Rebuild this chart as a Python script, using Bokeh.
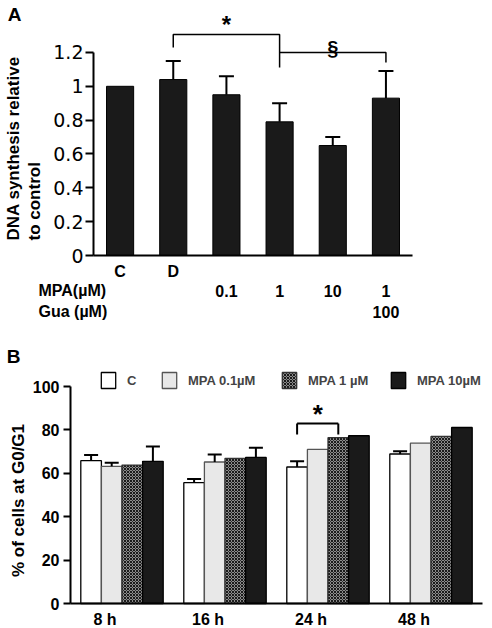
from bokeh.plotting import figure
from bokeh.models import (ColumnDataSource, Range1d, FixedTicker,
                          PrintfTickFormatter, Legend, LegendItem)
from bokeh.transform import dodge
from bokeh.core.properties import value
from bokeh.embed import file_html
from bokeh.resources import INLINE

# ---------------- Panel A data ----------------
a_cats = ["C", "D", "MPA 0.1", "MPA 1", "MPA 10", "MPA 1 + Gua 100"]
a_mean = [1.00, 1.04, 0.95, 0.79, 0.65, 0.93]
a_upper = [1.00, 1.15, 1.06, 0.90, 0.70, 1.09]
a_row1 = ["C", "D", "", "", "", ""]
a_mpa = ["", "", "0.1", "1", "10", "1"]
a_gua = ["", "", "", "", "", "100"]
a_yticks = [0, 0.2, 0.4, 0.6, 0.8, 1.0, 1.2]

# ---------------- Panel B data ----------------
b_times = ["8 h", "16 h", "24 h", "48 h"]
b_series = ["C", "MPA 0.1\u00b5M", "MPA 1 \u00b5M", "MPA 10\u00b5M"]
b_C = [65.8, 55.7, 62.9, 68.9]
b_C_up = [68.4, 57.4, 65.5, 70.2]
b_m01 = [63.2, 65.2, 71.0, 73.9]
b_m01_up = [64.9, 68.7, 71.0, 73.9]
b_m1 = [63.8, 66.9, 76.4, 77.0]
b_m1_up = [63.8, 66.9, 76.4, 77.0]
b_m10 = [65.5, 67.3, 77.3, 81.1]
b_m10_up = [72.4, 71.8, 77.3, 81.1]
b_yticks = [0, 20, 40, 60, 80, 100]

FONT = "Liberation Sans"
W = 492

# ---- layout geometry (pixels) used to place the frames' ranges ----
A_H, A_AXIS_X, A_UNIT, A_ZERO_Y, A_PX_PER = 320, 93, 53.17, 255, 169.2
B_H, B_AXIS_X, B_UNIT, B_ZERO_Y, B_PX_PER, B_TOP = 308, 70, 103.0, 603, 2.17, 320

def ax(px):   # page x -> panel A data x (category index)
    return (px - A_AXIS_X) / A_UNIT - 0.5
def ay(py):   # page y -> panel A data y
    return (A_ZERO_Y - py) / A_PX_PER
def bx(px):
    return (px - B_AXIS_X) / B_UNIT - 0.5
def by(py):
    return (B_ZERO_Y - py) / B_PX_PER

# ================= Panel A =================
pA = figure(width=W, height=A_H,
            x_range=Range1d(ax(0), ax(W)), y_range=Range1d(ay(A_H), ay(0)),
            x_axis_location=None, output_backend="svg", toolbar_location=None,
            min_border=0)
pA.outline_line_color = None
pA.grid.visible = False

a_idx = list(range(len(a_cats)))
srcA = ColumnDataSource(dict(i=a_idx, cat=a_cats, mean=a_mean, upper=a_upper,
                             row1=a_row1, mpa=a_mpa, gua=a_gua))
pA.vbar(x="i", top="mean", width=0.51, source=srcA,
        fill_color="#1a1a1a", line_color="black", line_width=1)

idx = [i for i in a_idx if a_upper[i] > a_mean[i]]
srcAe = ColumnDataSource(dict(i=idx, mean=[a_mean[i] for i in idx],
                              upper=[a_upper[i] for i in idx]))
pA.segment(x0="i", y0="mean", x1="i", y1="upper", source=srcAe,
           line_color="black", line_width=2)
pA.scatter(x="i", y="upper", marker="dash", size=15, source=srcAe,
           line_color="black", line_width=2)

# x axis line
pA.segment(x0=[-0.5], y0=[0], x1=[len(a_cats) - 0.5], y1=[0],
           line_color="black", line_width=2)

for col, yy in (("row1", ay(270.5)), ("mpa", ay(290)), ("gua", ay(311))):
    pA.text(x="i", y=yy, text=col, source=srcA, text_font=value(FONT),
            text_font_style="bold", text_font_size="16px",
            text_align="center", text_baseline="middle", text_color="black")

# significance brackets
iD, i1, iG = a_cats.index("D"), a_cats.index("MPA 1"), a_cats.index("MPA 1 + Gua 100")
pA.line(x=[iD, iD, i1, i1], y=[ay(47), ay(34), ay(34), ay(67)],
        line_color="black", line_width=1.5)
pA.line(x=[i1, iG, iG], y=[1.2, 1.2, ay(62)], line_color="black", line_width=1.5)
pA.text(x=[(iD + i1) / 2], y=[ay(24)], text=["*"], text_font=value(FONT),
        text_font_style="bold", text_font_size="24px",
        text_align="center", text_baseline="middle")
pA.text(x=[(i1 + iG) / 2], y=[ay(47)], text=["\u00a7"], text_font=value(FONT),
        text_font_style="bold", text_font_size="20px",
        text_align="center", text_baseline="middle")

yA = pA.yaxis[0]
yA.fixed_location = -0.5
yA.ticker = FixedTicker(ticks=a_yticks)
yA.formatter = PrintfTickFormatter(format="%g")
yA.bounds = (0, 1.2)
yA.axis_line_width = 2
yA.major_tick_line_width = 2
yA.major_tick_out = 8
yA.major_tick_in = 0
yA.minor_tick_out = 0
yA.minor_tick_in = 0
yA.major_label_standoff = 2
yA.major_label_text_font = "DejaVu Sans"
yA.major_label_text_font_size = "19px"
yA.major_label_text_color = "black"

def txt(p, s, x, y, size, align="left", angle=0.0):
    p.text(x=[x], y=[y], text=[s], angle=angle, text_font=value(FONT),
           text_font_style="bold", text_font_size=size, text_align=align,
           text_baseline="middle", text_color="black")

HALF_PI = 1.5707963267948966
txt(pA, "DNA synthesis relative", ax(12.5), ay(240), "17px", "left", HALF_PI)
txt(pA, "to control", ax(33.5), ay(240), "17px", "left", HALF_PI)
txt(pA, "A", ax(14), ay(14), "19px", "center")
txt(pA, "MPA(\u00b5M)", ax(38), ay(290), "16px")
txt(pA, "Gua (\u00b5M)", ax(38), ay(311), "16px")

# ================= Panel B =================
pB = figure(width=W, height=B_H,
            x_range=Range1d(bx(0), bx(W)),
            y_range=Range1d(by(B_TOP + B_H), by(B_TOP)),
            x_axis_location=None, output_backend="svg", toolbar_location=None,
            min_border=0)
pB.outline_line_color = None
pB.grid.visible = False

b_idx = list(range(len(b_times)))
srcB = ColumnDataSource(dict(i=b_idx, time=b_times,
                             s0=b_C, s1=b_m01, s2=b_m1, s3=b_m10))
offsets = [-0.3, -0.1, 0.1, 0.3]
styles = [
    dict(fill_color="white", line_color="black", line_width=1.3),
    dict(fill_color="#e8e8e8", line_color="#555555", line_width=1.3),
    dict(fill_color="#8c8c8c", line_color="#333333", line_width=1.3,
         hatch_pattern="x", hatch_color="#1a1a1a", hatch_scale=3, hatch_weight=1),
    dict(fill_color="#1a1a1a", line_color="black", line_width=1.3),
]
means = [b_C, b_m01, b_m1, b_m10]
ups = [b_C_up, b_m01_up, b_m1_up, b_m10_up]
legend_px = [99, 160, 280, 389]
for k in range(4):
    r = pB.vbar(x=dodge("i", offsets[k]), top="s%d" % k,
                width=0.2, source=srcB, **styles[k])
    pB.add_layout(Legend(items=[LegendItem(label=b_series[k], renderers=[r])],
                         location=(legend_px[k], 238),
                         glyph_width=18, glyph_height=20, label_standoff=10,
                         padding=0, margin=0, border_line_color=None,
                         background_fill_alpha=0, label_text_font=FONT,
                         label_text_font_style="bold", label_text_font_size="13px"))
    ii = [i for i in b_idx if ups[k][i] > means[k][i]]
    if ii:
        se = ColumnDataSource(dict(i=ii, m=[means[k][i] for i in ii],
                                   u=[ups[k][i] for i in ii]))
        pB.segment(x0=dodge("i", offsets[k]), y0="m", x1=dodge("i", offsets[k]), y1="u",
                   source=se, line_color="black", line_width=2)
        pB.scatter(x=dodge("i", offsets[k]), y="u", marker="dash", size=14,
                   source=se, line_color="black", line_width=2)

# x axis line
pB.segment(x0=[-0.5], y0=[0], x1=[len(b_times) - 0.5], y1=[0],
           line_color="black", line_width=2)

# significance bracket at 24 h
sig = ColumnDataSource(dict(i=[b_times.index("24 h")]))
y_top, y_drop = by(423), by(434)
pB.segment(x0=dodge("i", -0.3), y0=y_top, x1=dodge("i", 0.1), y1=y_top, source=sig,
           line_color="black", line_width=2)
for off in (-0.3, 0.1):
    pB.segment(x0=dodge("i", off), y0=y_top, x1=dodge("i", off), y1=y_drop, source=sig,
               line_color="black", line_width=2)
pB.text(x=dodge("i", -0.1), y=by(413), text=value("*"), source=sig,
        text_font=value(FONT), text_font_style="bold", text_font_size="26px",
        text_align="center", text_baseline="middle")

pB.text(x=dodge("i", -0.165), y=by(619), text="time", source=srcB,
        text_font=value(FONT), text_font_style="bold", text_font_size="16px",
        text_align="center", text_baseline="middle", text_color="black")

yB = pB.yaxis[0]
yB.fixed_location = -0.5
yB.ticker = FixedTicker(ticks=b_yticks)
yB.bounds = (0, 100)
yB.axis_line_width = 2
yB.major_tick_line_width = 2
yB.major_tick_out = 7
yB.major_tick_in = 0
yB.minor_tick_out = 0
yB.minor_tick_in = 0
yB.major_label_standoff = 4
yB.major_label_text_font = FONT
yB.major_label_text_font_style = "bold"
yB.major_label_text_font_size = "16px"
yB.major_label_text_color = "black"

txt(pB, "% of cells at G0/G1", bx(17.5), by(500), "17px", "center", HALF_PI)
txt(pB, "B", bx(13), by(356), "19px", "center")

p = [pA, pB]
open("out.html", "w").write(file_html(p, INLINE))
